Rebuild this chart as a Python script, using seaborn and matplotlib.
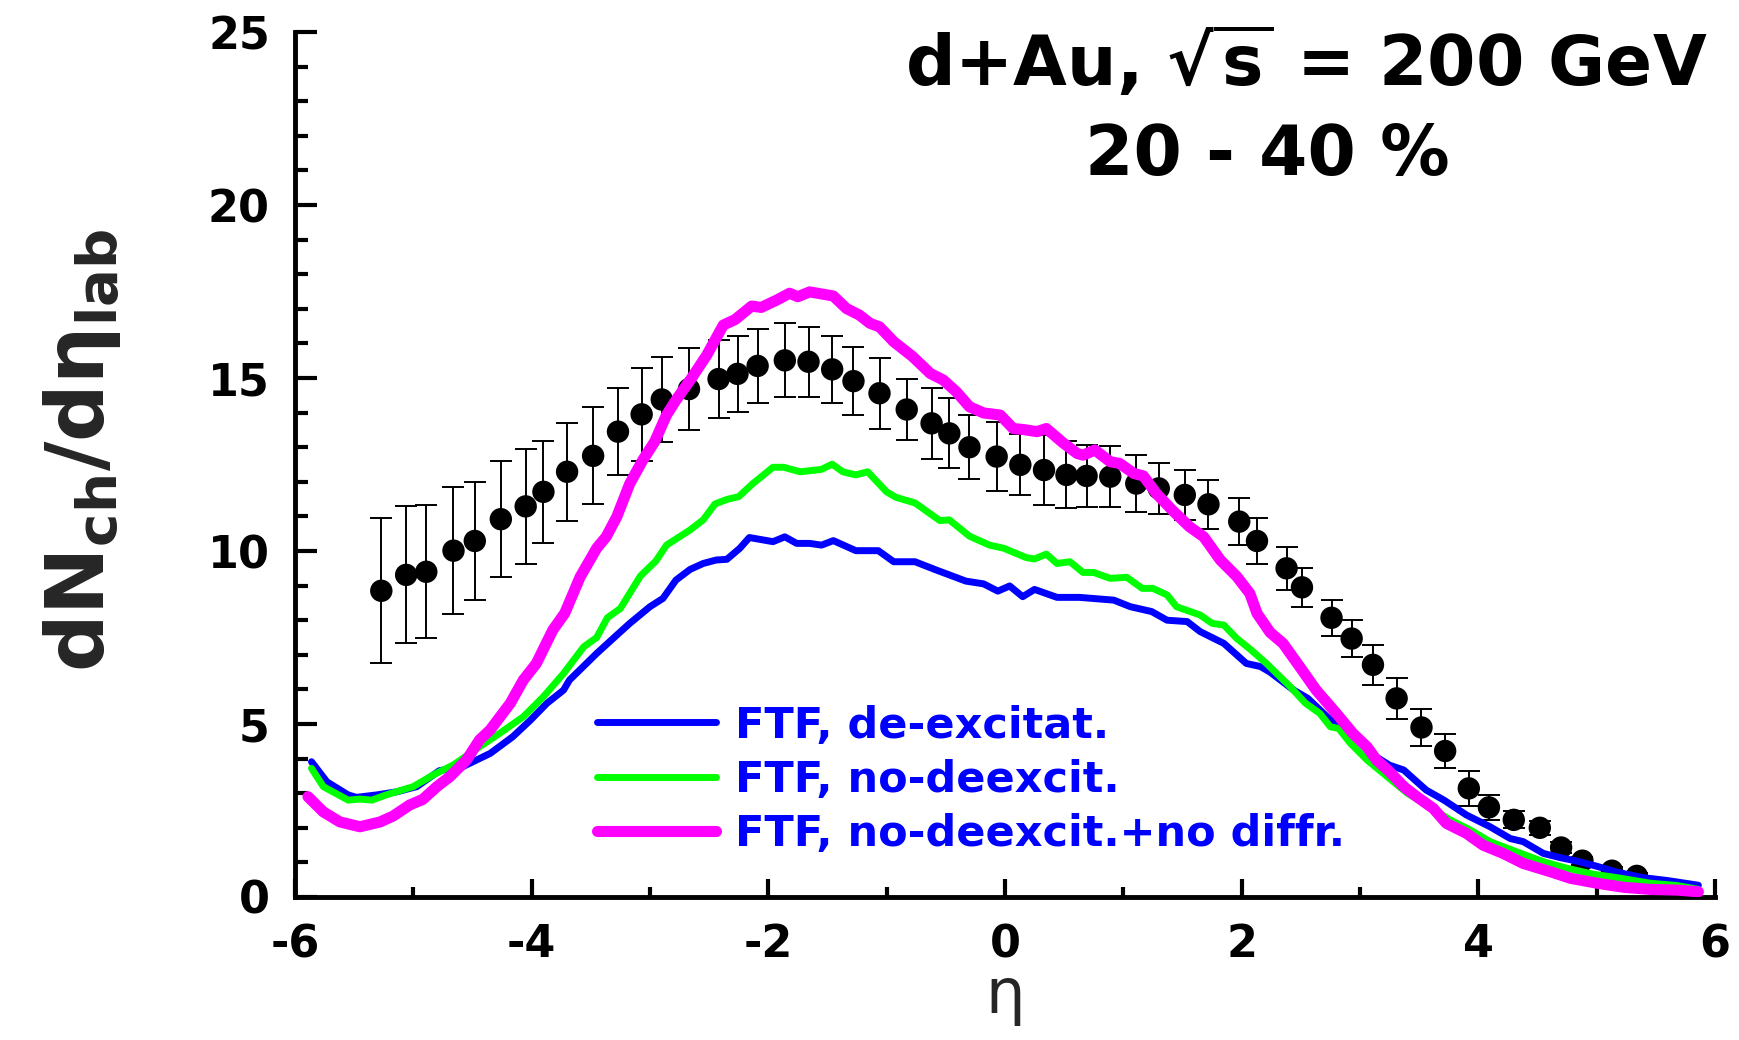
import numpy as np
import pandas as pd
import matplotlib
matplotlib.use("Agg")
import matplotlib.pyplot as plt
import seaborn as sns
from matplotlib.ticker import MultipleLocator

# ---------------- data ----------------
data_eta = [-5.27, -5.06, -4.89, -4.66, -4.48, -4.26, -4.05, -3.90, -3.70, -3.48,
            -3.27, -3.07, -2.90, -2.67, -2.42, -2.26, -2.09, -1.86, -1.66, -1.46,
            -1.28, -1.06, -0.83, -0.62, -0.47, -0.30, -0.07, 0.13, 0.33, 0.52,
            0.69, 0.89, 1.11, 1.30, 1.52, 1.72, 1.98, 2.13, 2.38, 2.51,
            2.76, 2.93, 3.11, 3.31, 3.52, 3.72, 3.92, 4.09, 4.30, 4.52,
            4.70, 4.88, 5.13, 5.34]
data_dn = [8.85, 9.31, 9.40, 10.01, 10.29, 10.92, 11.29, 11.71, 12.29, 12.75,
           13.45, 13.95, 14.38, 14.68, 14.97, 15.12, 15.35, 15.51, 15.47, 15.25,
           14.91, 14.56, 14.09, 13.69, 13.40, 13.00, 12.73, 12.49, 12.34, 12.20,
           12.17, 12.15, 11.95, 11.81, 11.62, 11.35, 10.85, 10.29, 9.50, 8.95,
           8.07, 7.47, 6.71, 5.74, 4.90, 4.22, 3.14, 2.59, 2.23, 2.00,
           1.43, 1.05, 0.76, 0.61]
data_err = [2.10, 1.98, 1.92, 1.84, 1.70, 1.68, 1.66, 1.47, 1.42, 1.40,
            1.25, 1.35, 1.24, 1.19, 1.12, 1.10, 1.08, 1.07, 1.01, 0.96,
            0.99, 1.03, 0.89, 1.02, 1.01, 0.93, 0.99, 0.88, 1.00, 0.97,
            0.90, 0.88, 0.82, 0.74, 0.71, 0.71, 0.67, 0.66, 0.62, 0.56,
            0.52, 0.54, 0.57, 0.59, 0.53, 0.48, 0.50, 0.37, 0.25, 0.20,
            0.15, 0.12, 0.10, 0.08]

blue_eta = [-5.86, -5.73, -5.55, -5.48, -5.31, -5.14, -4.97, -4.78, -4.58, -4.35,
            -4.16, -4.01, -3.87, -3.73, -3.68, -3.45, -3.28, -3.17, -3.00, -2.89,
            -2.78, -2.66, -2.55, -2.44, -2.35, -2.24, -2.16, -1.96, -1.86, -1.76,
            -1.65, -1.55, -1.45, -1.26, -1.07, -0.94, -0.76, -0.58, -0.33, -0.18,
            -0.06, 0.04, 0.15, 0.25, 0.44, 0.63, 0.92, 1.06, 1.24, 1.37,
            1.54, 1.65, 1.85, 2.04, 2.16, 2.24, 2.44, 2.56, 2.75, 2.92,
            3.09, 3.25, 3.37, 3.56, 3.71, 3.90, 4.10, 4.27, 4.38, 4.55,
            4.69, 4.83, 5.00, 5.17, 5.39, 5.59, 5.86]
blue_dn = [3.91, 3.33, 2.95, 2.88, 2.95, 3.04, 3.19, 3.65, 3.77, 4.15,
           4.63, 5.11, 5.60, 5.98, 6.27, 7.04, 7.57, 7.91, 8.39, 8.63,
           9.16, 9.47, 9.64, 9.74, 9.76, 10.08, 10.39, 10.27, 10.41, 10.22,
           10.22, 10.17, 10.30, 10.01, 10.01, 9.69, 9.69, 9.45, 9.13, 9.05,
           8.84, 8.99, 8.68, 8.89, 8.66, 8.66, 8.58, 8.39, 8.25, 8.00,
           7.96, 7.67, 7.33, 6.75, 6.66, 6.50, 5.98, 5.74, 5.12, 4.73,
           4.15, 3.81, 3.67, 3.09, 2.80, 2.37, 2.03, 1.69, 1.60, 1.26,
           1.14, 1.04, 0.89, 0.72, 0.56, 0.48, 0.34]

green_eta = [-5.86, -5.76, -5.55, -5.45, -5.35, -5.23, -5.00, -4.83, -4.66, -4.44,
             -4.27, -4.07, -3.90, -3.73, -3.56, -3.45, -3.36, -3.25, -3.08, -2.95,
             -2.86, -2.66, -2.55, -2.45, -2.35, -2.25, -2.13, -1.96, -1.87, -1.73,
             -1.55, -1.46, -1.37, -1.26, -1.16, -1.00, -0.92, -0.76, -0.55, -0.47,
             -0.30, -0.13, -0.01, 0.18, 0.25, 0.35, 0.44, 0.55, 0.66, 0.75,
             0.89, 1.03, 1.16, 1.25, 1.37, 1.45, 1.65, 1.75, 1.85, 1.96,
             2.07, 2.21, 2.41, 2.54, 2.66, 2.75, 2.82, 2.92, 3.06, 3.23,
             3.40, 3.59, 3.76, 3.93, 4.10, 4.32, 4.55, 4.75, 4.97, 5.17,
             5.45, 5.68, 5.86]
green_dn = [3.72, 3.19, 2.80, 2.83, 2.80, 2.95, 3.19, 3.53, 3.82, 4.34,
            4.73, 5.21, 5.79, 6.46, 7.23, 7.50, 8.07, 8.34, 9.28, 9.71,
            10.17, 10.61, 10.90, 11.36, 11.49, 11.57, 11.95, 12.42, 12.42, 12.29,
            12.36, 12.51, 12.29, 12.20, 12.29, 11.71, 11.55, 11.39, 10.88, 10.90,
            10.43, 10.17, 10.08, 9.81, 9.77, 9.91, 9.64, 9.69, 9.38, 9.38,
            9.21, 9.24, 8.92, 8.92, 8.73, 8.39, 8.15, 7.91, 7.86, 7.47,
            7.17, 6.75, 6.08, 5.60, 5.31, 4.92, 4.87, 4.44, 3.96, 3.48,
            3.00, 2.61, 2.23, 1.94, 1.60, 1.31, 1.02, 0.83, 0.66, 0.56,
            0.40, 0.33, 0.22]

magenta_eta = [-5.89, -5.76, -5.62, -5.45, -5.28, -5.17, -5.03, -4.92, -4.80, -4.69,
               -4.55, -4.44, -4.35, -4.18, -4.07, -3.96, -3.82, -3.72, -3.59, -3.45,
               -3.37, -3.28, -3.17, -3.06, -2.96, -2.86, -2.78, -2.65, -2.52, -2.38,
               -2.28, -2.14, -2.06, -1.93, -1.82, -1.75, -1.65, -1.45, -1.34, -1.23,
               -1.14, -1.06, -0.94, -0.78, -0.63, -0.52, -0.41, -0.30, -0.18, -0.04,
               0.07, 0.16, 0.27, 0.35, 0.49, 0.61, 0.66, 0.76, 0.89, 0.97,
               1.09, 1.17, 1.28, 1.42, 1.56, 1.68, 1.82, 1.96, 2.07, 2.13,
               2.24, 2.35, 2.49, 2.63, 2.80, 2.94, 3.06, 3.14, 3.25, 3.37,
               3.48, 3.62, 3.73, 3.90, 4.04, 4.21, 4.38, 4.61, 4.78, 5.00,
               5.23, 5.45, 5.68, 5.86]
magenta_dn = [2.90, 2.46, 2.17, 2.03, 2.17, 2.34, 2.66, 2.82, 3.19, 3.48,
              3.96, 4.54, 4.83, 5.60, 6.27, 6.75, 7.72, 8.20, 9.25, 10.08,
              10.41, 10.99, 11.95, 12.63, 13.16, 13.93, 14.36, 14.99, 15.66, 16.53,
              16.69, 17.08, 17.04, 17.25, 17.45, 17.35, 17.49, 17.37, 17.01, 16.82,
              16.58, 16.48, 16.05, 15.62, 15.13, 14.94, 14.60, 14.17, 13.99, 13.93,
              13.54, 13.51, 13.45, 13.54, 13.13, 12.82, 12.77, 12.92, 12.58, 12.53,
              12.24, 12.17, 11.66, 11.16, 10.70, 10.41, 9.74, 9.26, 8.77, 8.20,
              7.65, 7.33, 6.66, 5.98, 5.31, 4.73, 4.34, 3.96, 3.62, 3.19,
              2.90, 2.56, 2.13, 1.84, 1.50, 1.26, 0.97, 0.73, 0.54, 0.40,
              0.28, 0.22, 0.20, 0.15]

series_labels = ["FTF, de-excitat.", "FTF, no-deexcit.", "FTF, no-deexcit.+no diffr."]
x_ticks = [-6, -4, -2, 0, 2, 4, 6]
y_ticks = [0, 5, 10, 15, 20, 25]

# ---------------- style ----------------
sns.set_theme(style="ticks")
plt.rcParams["font.family"] = ["DejaVu Sans"]
plt.rcParams["font.weight"] = "bold"
plt.rcParams["mathtext.fontset"] = "dejavusans"
plt.rcParams["axes.unicode_minus"] = False

fig = plt.figure(figsize=(17.4, 10.4), dpi=100)
ax = fig.add_axes([0.1695, 0.1375, 0.8161, 0.8317])

df_blue = pd.DataFrame({"eta": blue_eta, "dn": blue_dn})
df_green = pd.DataFrame({"eta": green_eta, "dn": green_dn})
df_mag = pd.DataFrame({"eta": magenta_eta, "dn": magenta_dn})
df_data = pd.DataFrame({"eta": data_eta, "dn": data_dn, "err": data_err})

ax.errorbar(df_data["eta"], df_data["dn"], yerr=df_data["err"], fmt="none",
            ecolor="black", elinewidth=1.4, capsize=8, capthick=1.4, zorder=2)
sns.scatterplot(data=df_data, x="eta", y="dn", ax=ax, color="black", s=260,
                marker="o", edgecolor="none", linewidth=0, zorder=3, legend=False)

sns.lineplot(data=df_blue, x="eta", y="dn", ax=ax, color="#0000ff", linewidth=5.0,
             sort=False, estimator=None, label=series_labels[0], zorder=4,
             solid_capstyle="round")
sns.lineplot(data=df_green, x="eta", y="dn", ax=ax, color="#00ff00", linewidth=5.0,
             sort=False, estimator=None, label=series_labels[1], zorder=5,
             solid_capstyle="round")
sns.lineplot(data=df_mag, x="eta", y="dn", ax=ax, color="#ff00ff", linewidth=8.0,
             sort=False, estimator=None, label=series_labels[2], zorder=6,
             solid_capstyle="round")

ax.set_xlim(-6, 6)
ax.set_ylim(0, 25)
ax.set_xticks(x_ticks)
ax.set_yticks(y_ticks)
ax.xaxis.set_minor_locator(MultipleLocator(1))
ax.yaxis.set_minor_locator(MultipleLocator(1))

for side in ["top", "right"]:
    ax.spines[side].set_visible(False)
for side in ["left", "bottom"]:
    ax.spines[side].set_linewidth(3.5)
    ax.spines[side].set_color("black")

ax.tick_params(axis="both", which="both", direction="in", width=3, color="black",
               labelsize=32, labelcolor="black")
ax.tick_params(axis="x", which="major", length=13, pad=19)
ax.tick_params(axis="x", which="minor", length=7)
ax.tick_params(axis="y", which="major", length=16, pad=18)
ax.tick_params(axis="y", which="minor", length=9)

ax.set_xlabel("η", fontsize=45, fontweight="normal", labelpad=0)
ax.set_ylabel(r"$\mathbf{dN}_{\mathbf{ch}}\mathbf{/d}\mathrm{\eta}_{\mathbf{lab}}$",
              fontsize=58)
ax.yaxis.label.set_rotation_mode("default")
ax.yaxis.label.set_verticalalignment("center")
ax.yaxis.label.set_horizontalalignment("center")
ax.yaxis.set_label_coords(-0.150, 0.517)

ax.text(0.712, 0.938, r"d+Au, $\mathbf{\sqrt{s}}$ = 200 GeV", transform=ax.transAxes,
        ha="center", va="baseline", fontsize=50, fontweight="bold", color="black")
ax.text(0.685, 0.835, "20 - 40 %", transform=ax.transAxes,
        ha="center", va="baseline", fontsize=50, fontweight="bold", color="black")

handles, labels = ax.get_legend_handles_labels()
leg = ax.legend(handles, labels, loc="upper left", bbox_to_anchor=(0.2127, 0.2225),
                frameon=False, borderpad=0, borderaxespad=0, handlelength=2.77,
                handletextpad=0.44, labelspacing=0.28,
                prop={"size": 31, "weight": "bold"})
for t in leg.get_texts():
    t.set_color("#0000ff")

fig.savefig("out.png", dpi=100, facecolor="white")
